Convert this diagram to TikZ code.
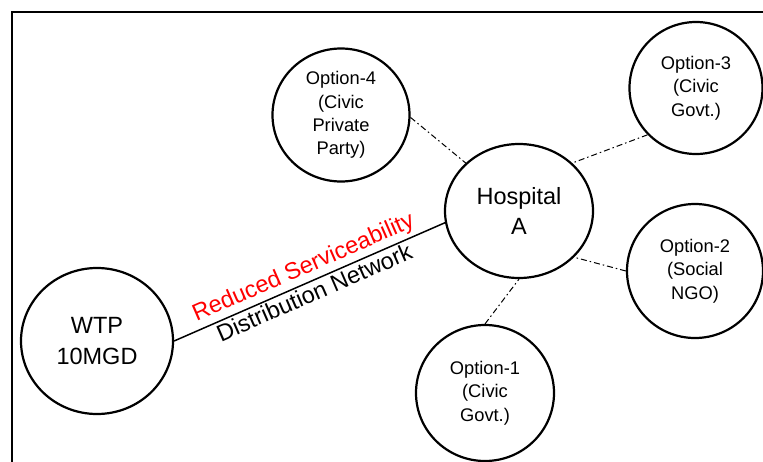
\documentclass[tikz,border=0pt]{standalone}
\usepackage{fontspec}
\setmainfont{Liberation Sans}
\usetikzlibrary{shapes,arrows,positioning,calc}

\tikzset{
  opt/.style={draw, ellipse, line width=2.2pt, inner sep=0pt, align=center,
              font=\fontsize{18.3}{23.3}\selectfont},
  big/.style={draw, ellipse, line width=2.2pt, inner sep=0pt, align=center,
              font=\fontsize{23.5}{30.5}\selectfont},
  link/.style={line width=1pt, dash pattern=on 6pt off 3pt on 1.5pt off 3pt}
}

\begin{document}
\begin{tikzpicture}[x=1pt, y=-1pt]
            \clip (0,0) rectangle (763,461);
            % frame
            \draw[line width=2pt] (12,480) -- (12,12) -- (780,12);

            \node[big, minimum width=152pt, minimum height=146pt] (wtp) at (97,341) {WTP\\10MGD};
            \node[big, minimum width=148pt, minimum height=134pt] (hosp) at (519,211) {Hospital\\A};

            \node[opt, minimum width=137pt, minimum height=133pt] (o4) at (341,115) {Option-4\\(Civic\\Private\\Party)};
            \node[opt, minimum width=133pt, minimum height=132pt] (o3) at (696,88) {Option-3\\(Civic\\Govt.)};
            \node[opt, minimum width=136pt, minimum height=134pt] (o2) at (695,271) {Option-2\\(Social\\NGO)};
            \node[opt, minimum width=138pt, minimum height=136pt] (o1) at (485,393) {Option-1\\(Civic\\Govt.)};

            \draw[line width=1.5pt] (wtp.east) --
                node[sloped, above, inner sep=3pt, text=red, font=\fontsize{23.5}{28}\selectfont] {Reduced Serviceability}
                node[sloped, below, inner sep=2pt, font=\fontsize{23.5}{28}\selectfont] {Distribution Network}
                (hosp.189);

            \draw[link] (o4.-2) -- (hosp.138);
            \draw[link] (o3.224) -- (hosp.42);
            \draw[link] (o2.west) -- (hosp.-40);
            \draw[link] (o1.north) -- (hosp.south);
\end{tikzpicture}
\end{document}
